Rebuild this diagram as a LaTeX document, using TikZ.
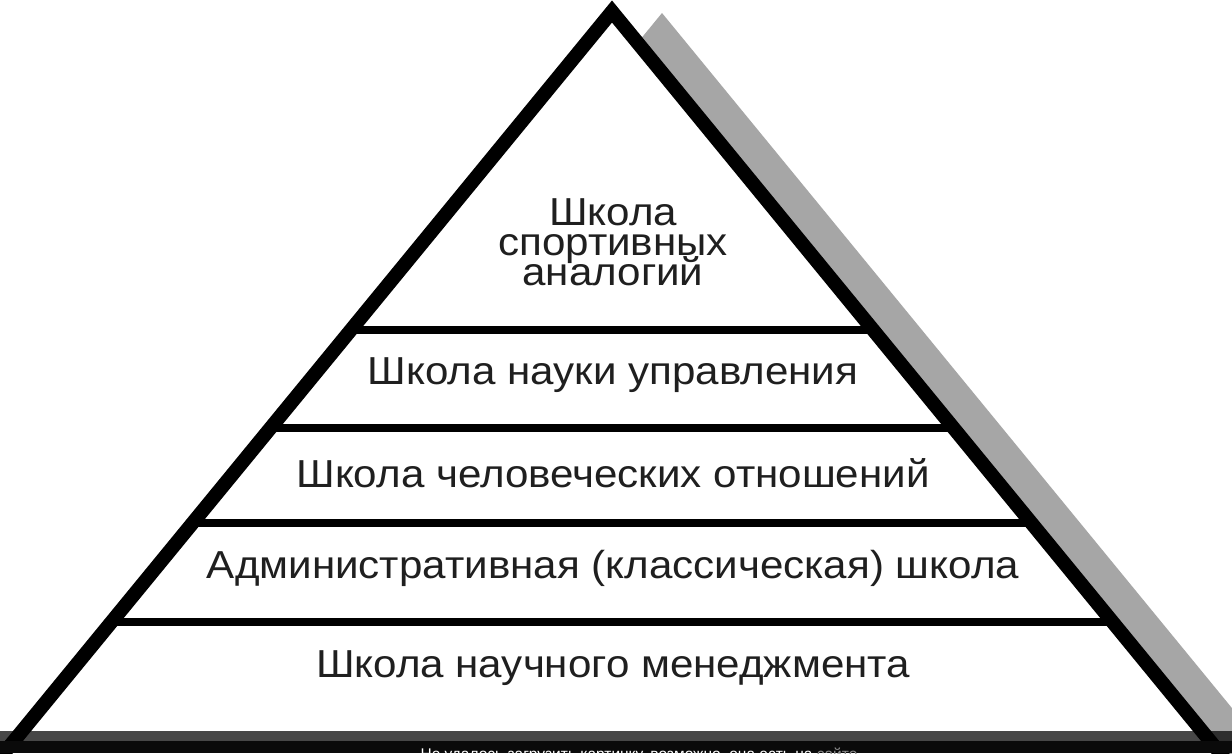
\documentclass[tikz,border=0pt]{standalone}
\usepackage{fontspec}
\setmainfont{Liberation Sans}
\newfontfamily\widesans[FakeStretch=1.08]{Liberation Sans}
\newcommand\mytightlines{\lineskiplimit=-100pt\relax\lineskip=0pt\relax}
\begin{document}
\begin{tikzpicture}[x=1pt,y=-1pt,
  lbl/.style={font=\widesans\fontsize{39}{30}\selectfont\mytightlines, align=center, text=black!88, inner sep=0pt},
  legline/.style={line width=14pt, line join=miter, miter limit=10},
  barline/.style={line width=8pt},
  shadow/.style={fill=black!35}]
\useasboundingbox (0,0) rectangle (1232,753);
\begin{scope}
\clip (0,0) rectangle (1232,753);
\fill[white] (0,0) rectangle (1232,753);
% shadow
\coordinate (S) at (662,13);
\fill[shadow] (S) -- (-76,913) -- (1400,913) -- cycle;
% pyramid body
\coordinate (A) at (612,11.5);
\coordinate (BL) at (-1.7,760);
\coordinate (BR) at (1225.7,760);
\fill[white] (A) -- (BL) -- (BR) -- cycle;
% horizontal dividers
\foreach \yy/\nm in {330/d1,428/d2,523/d3,622/d4}{
  \pgfmathsetmacro{\hw}{(\yy-11.5)*0.82}
  \coordinate (\nm l) at ({612-\hw},\yy);
  \coordinate (\nm r) at ({612+\hw},\yy);
  \draw[barline] (\nm l) -- (\nm r);
}
\draw[legline] (BL) -- (A) -- (BR);
% labels
\node[lbl,anchor=north] (t1) at (613,198) {Школа\\спортивных\\аналогий};
\node[lbl] (t2) at (613,375) {Школа науки управления};
\node[lbl] (t3) at (613,473) {Школа человеческих отношений};
\node[lbl] (t4) at (613,568) {Административная (классическая) школа};
\node[lbl] (t5) at (613,668) {Школа научного менеджмента};
% bottom band
\fill[black,opacity=0.72] (0,731) rectangle (1232,741);
\fill[black!96] (0,741) rectangle (1232,753);
\node[anchor=north,inner sep=0pt,text=white,font=\fontsize{15.5}{15.5}\selectfont] (cap) at (639,748) {Не удалось загрузить картинку, возможно, она есть на \textcolor{black!45}{сайте}};
\end{scope}
\end{tikzpicture}
\end{document}
